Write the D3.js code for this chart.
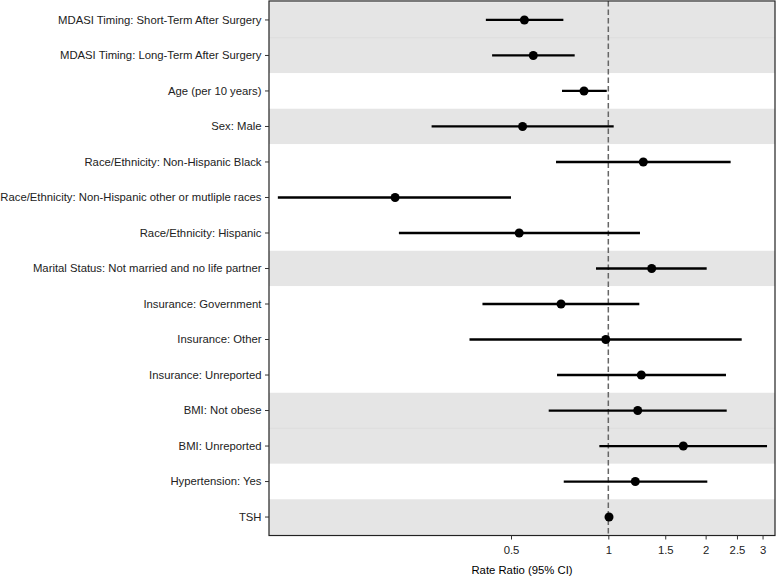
<!DOCTYPE html>
<html>
<head>
<meta charset="utf-8">
<script src="https://cdn.jsdelivr.net/npm/d3@7"></script>
<style>
  body { margin: 0; background: #fff; }
  svg { display: block; font-family: "Liberation Sans", Arial, Helvetica, sans-serif; }
</style>
</head>
<body>
<svg id="chart" width="777" height="576"></svg>
<script>
const labels = [
  "MDASI Timing: Short-Term After Surgery",
  "MDASI Timing: Long-Term After Surgery",
  "Age (per 10 years)",
  "Sex: Male",
  "Race/Ethnicity: Non-Hispanic Black",
  "Race/Ethnicity: Non-Hispanic other or mutliple races",
  "Race/Ethnicity: Hispanic",
  "Marital Status: Not married and no life partner",
  "Insurance: Government",
  "Insurance: Other",
  "Insurance: Unreported",
  "BMI: Not obese",
  "BMI: Unreported",
  "Hypertension: Yes",
  "TSH"
];
const groups = ["MDASI","MDASI","Age","Sex","Race","Race","Race","Marital","Insurance","Insurance","Insurance","BMI","BMI","Hypertension","TSH"];
const estimate = [0.550, 0.586, 0.841, 0.543, 1.283, 0.219, 0.530, 1.362, 0.714, 0.982, 1.265, 1.233, 1.706, 1.212, 1.005];
const lower    = [0.418, 0.437, 0.719, 0.284, 0.689, 0.095, 0.225, 0.916, 0.408, 0.372, 0.694, 0.654, 0.938, 0.728, 1.000];
const upper    = [0.726, 0.787, 0.989, 1.039, 2.390, 0.500, 1.253, 2.015, 1.247, 2.586, 2.312, 2.324, 3.097, 2.024, 1.010];
const xTicks = [0.5, 1, 1.5, 2, 2.5, 3];
const xTickLabels = ["0.5", "1", "1.5", "2", "2.5", "3"];
const xDomain = [0.0892, 3.278];
const refValue = 1;
const xTitle = "Rate Ratio (95% CI)";

const data = labels.map((l, i) => ({label: l, group: groups[i], est: estimate[i], lo: lower[i], hi: upper[i]}));
const groupOrder = Array.from(new Set(groups));

const svg = d3.select("#chart");
const pLeft = 269, pRight = 775, pTop = 1, pBottom = 535.5;
const bandTop = 2.2, bandBottom = 534.8;

const x = d3.scaleLog().domain(xDomain).range([pLeft, pRight]);
const y = d3.scaleBand().domain(labels).range([bandTop, bandBottom]).padding(0);

// background bands
const bands = svg.append("g");
bands.selectAll("rect").data(data).join("rect")
  .attr("x", pLeft).attr("width", pRight - pLeft)
  .attr("y", d => y(d.label)).attr("height", y.bandwidth())
  .attr("fill", d => groupOrder.indexOf(d.group) % 2 === 0 ? "#e5e5e5" : "#ffffff");
// subtle separators within shaded groups
bands.selectAll("line").data(data.filter((d, i) => i > 0 && groups[i - 1] === d.group && groupOrder.indexOf(d.group) % 2 === 0))
  .join("line")
  .attr("x1", pLeft).attr("x2", pRight)
  .attr("y1", d => y(d.label)).attr("y2", d => y(d.label))
  .attr("stroke", "#dcdcdc").attr("stroke-width", 1);

// reference line
svg.append("line")
  .attr("x1", x(refValue)).attr("x2", x(refValue))
  .attr("y1", pTop).attr("y2", pBottom)
  .attr("stroke", "#666").attr("stroke-width", 1.5)
  .attr("stroke-dasharray", "5.5,3");

// CI lines
svg.append("g").selectAll("line").data(data).join("line")
  .attr("x1", d => x(d.lo)).attr("x2", d => x(d.hi))
  .attr("y1", d => y(d.label) + y.bandwidth() / 2)
  .attr("y2", d => y(d.label) + y.bandwidth() / 2)
  .attr("stroke", "#000").attr("stroke-width", 2.3);

// points
svg.append("g").selectAll("circle").data(data).join("circle")
  .attr("cx", d => x(d.est))
  .attr("cy", d => y(d.label) + y.bandwidth() / 2)
  .attr("r", 4.5).attr("fill", "#000");

// panel border
svg.append("rect")
  .attr("x", pLeft).attr("y", pTop).attr("width", pRight - pLeft).attr("height", pBottom - pTop)
  .attr("fill", "none").attr("stroke", "#222").attr("stroke-width", 1.2);

// y axis
const yAxis = svg.append("g").attr("transform", `translate(${pLeft},0)`)
  .call(d3.axisLeft(y).tickSize(4).tickPadding(3.5));
yAxis.select(".domain").remove();
yAxis.selectAll("line").attr("stroke", "#333");
yAxis.selectAll("text").attr("font-size", 11.3).attr("fill", "#222")
  .attr("font-family", "'Liberation Sans', Arial, sans-serif");

// x axis
const xAxis = svg.append("g").attr("transform", `translate(0,${pBottom})`)
  .call(d3.axisBottom(x).tickValues(xTicks).tickFormat((d, i) => xTickLabels[i]).tickSize(4).tickPadding(6));
xAxis.select(".domain").remove();
xAxis.selectAll("line").attr("stroke", "#333");
xAxis.selectAll("text").attr("font-size", 11.3).attr("fill", "#222")
  .attr("font-family", "'Liberation Sans', Arial, sans-serif");

svg.append("text")
  .attr("x", (pLeft + pRight) / 2).attr("y", 574)
  .attr("text-anchor", "middle").attr("font-size", 11.3).attr("fill", "#000")
  .text(xTitle);
</script>
</body>
</html>
